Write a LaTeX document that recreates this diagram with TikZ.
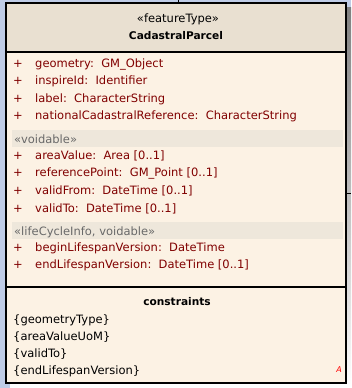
\documentclass[tikz,border=0pt]{standalone}
\usepackage{fontspec}
\setmainfont{DejaVu Sans}

\definecolor{canvas}{RGB}{191,204,230}
\definecolor{shade}{RGB}{168,168,168}
\definecolor{headfill}{RGB}{233,224,209}
\definecolor{bodyfill}{RGB}{252,242,228}
\definecolor{bandfill}{RGB}{238,231,219}
\definecolor{attrred}{RGB}{128,0,0}
\definecolor{bandgray}{RGB}{105,105,105}

\begin{document}
\begin{tikzpicture}[x=1pt, y=-1pt,
    txt/.style={inner sep=0pt, text height=8pt, text depth=2pt, font=\fontsize{11.5}{13}\selectfont},
    title/.style={txt, font=\fontsize{10.6}{13}\selectfont\bfseries},
    attr/.style={txt, anchor=west, text=attrred},
    band/.style={txt, anchor=west, text=bandgray},
    cons/.style={txt, anchor=west, text=black}]
    \useasboundingbox (0,0) rectangle (351,388);

    % Background and shadow
    \fill[canvas] (0,0) rectangle (351,388);
    \fill[shade] (10,7) rectangle (351,388);

    % Class box
    \fill[bodyfill] (6,3) rectangle (346,383);
    \fill[headfill] (6,3) rectangle (346,52);
    \fill[bandfill] (12,130) rectangle (343,147);
    \fill[bandfill] (12,222) rectangle (343,239);
    \draw[line width=1.3pt] (6,52) -- (346,52);
    \draw[line width=1.3pt] (6,287) -- (346,287);
    \draw[line width=1.3pt] (6,3) rectangle (346,383);

    % Header
    \node[txt] (stereo) at (178,20) {«featureType»};
    \node[title] (name) at (176,36) {CadastralParcel};

    % Attributes
    \node[attr] (p1) at (13,64) {+};
    \node[attr] (a1) at (35,64) {geometry:\ \ GM\_Object};
    \node[attr] (p2) at (13,81) {+};
    \node[attr] (a2) at (35,81) {inspireId:\ \ Identifier};
    \node[attr] (p3) at (13,99) {+};
    \node[attr] (a3) at (35,99) {label:\ \ CharacterString};
    \node[attr] (p4) at (13,116) {+};
    \node[attr] (a4) at (35,116) {nationalCadastralReference:\ \ CharacterString};

    \node[band] (voidable) at (14,140) {«voidable»};
    \node[attr] (p5) at (13,156) {+};
    \node[attr] (a5) at (35,156) {areaValue:\ \ Area [0..1]};
    \node[attr] (p6) at (13,173) {+};
    \node[attr] (a6) at (35,173) {referencePoint:\ \ GM\_Point [0..1]};
    \node[attr] (p7) at (13,191) {+};
    \node[attr] (a7) at (35,191) {validFrom:\ \ DateTime [0..1]};
    \node[attr] (p8) at (13,209) {+};
    \node[attr] (a8) at (35,209) {validTo:\ \ DateTime [0..1]};

    \node[band] (lifecycle) at (14,232) {«lifeCycleInfo, voidable»};
    \node[attr] (p9) at (13,248) {+};
    \node[attr] (a9) at (35,248) {beginLifespanVersion:\ \ DateTime};
    \node[attr] (p10) at (13,265) {+};
    \node[attr] (a10) at (35,265) {endLifespanVersion:\ \ DateTime [0..1]};

    % Constraints
    \node[title] (constraints) at (177,302) {constraints};
    \node[cons] (c1) at (13,320) {\{geometryType\}};
    \node[cons] (c2) at (13,337) {\{areaValueUoM\}};
    \node[cons] (c3) at (13,354) {\{validTo\}};
    \node[cons] (c4) at (13,371) {\{endLifespanVersion\}};
    \node[txt, text=red, font=\fontsize{8}{9}\selectfont\itshape] (abstract) at (339,369) {A};

    % Connector stubs
    \coordinate (top) at (178,3);
    \coordinate (topend) at (178,0);
    \coordinate (right) at (346,193);
    \coordinate (rightend) at (351,193);
    \draw[line width=0.8pt] (top) -- (topend);
    \draw[line width=0.8pt] (right) -- (rightend);
\end{tikzpicture}
\end{document}
